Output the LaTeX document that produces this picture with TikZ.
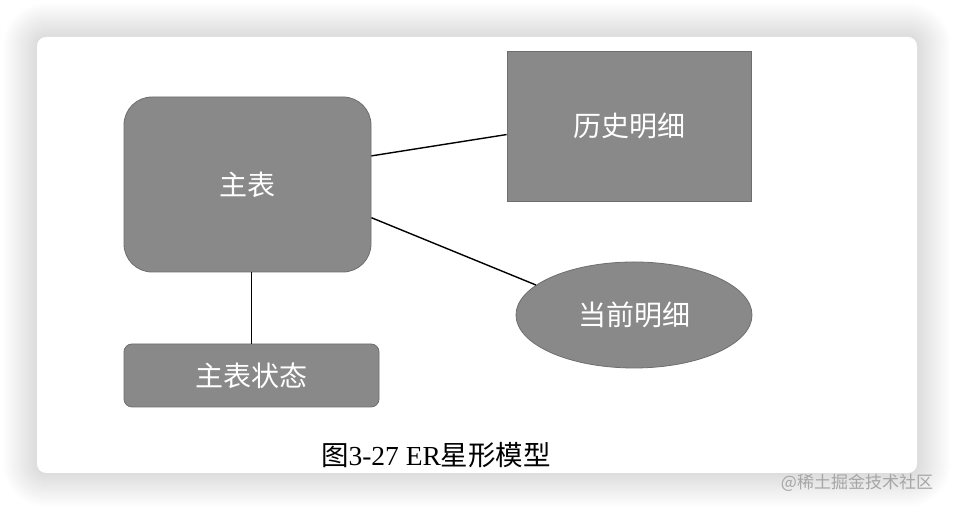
\documentclass[tikz,border=0pt]{standalone}
\usepackage{fontspec}
\setmainfont{Liberation Serif}
\newfontfamily\cjk{Noto Sans CJK SC}
\usetikzlibrary{shapes.geometric}
\definecolor{boxgray}{HTML}{898989}
\definecolor{edgegray}{HTML}{6E6E6E}
\begin{document}
\begin{tikzpicture}[x=1pt, y=1pt, font=\cjk\fontsize{28}{30}\selectfont,
      ent/.style={draw=edgegray, fill=boxgray, text=white, line width=0.8pt, inner sep=0pt},
      link/.style={line width=1.4pt}]
    \useasboundingbox (0,0) rectangle (954,510);
    \fill[white] (0,0) rectangle (954,510);
    % soft shadow round the card
    \foreach \i in {1,...,34}
      \fill[black, opacity=0.0042, rounded corners=9pt+\i pt] (37-\i,37-\i) rectangle (917+\i,473+\i);
    \fill[white, rounded corners=9pt] (37,37) rectangle (917,473);
    \node[ent, rounded corners=28pt, minimum width=247pt, minimum height=175pt] (main) at (247.5,325.5) {主表};
    \node[ent, minimum width=244pt, minimum height=150pt] (hist) at (629,384) {历史明细};
    \node[ent, ellipse, minimum width=236pt, minimum height=106pt] (cur) at (634,195) {当前明细};
    \node[ent, rounded corners=8pt, minimum width=255pt, minimum height=63pt] (state) at (251.5,134.5) {主表状态};
    \draw[link] (main.13) -- (hist.184);
    \draw[link] (main.-15) -- (cur.163);
    \draw[link] (state.north) -- (state.north |- main.south);
    \node[font=\fontsize{27.5}{30}\selectfont] (cap) at (436,55) {{\cjk 图}3-27 ER{\cjk 星形模型}};
    \node[text=gray!70, font=\cjk\fontsize{17}{19}\selectfont] (mark) at (857,27) {@稀土掘金技术社区};
  \end{tikzpicture}
\end{document}
